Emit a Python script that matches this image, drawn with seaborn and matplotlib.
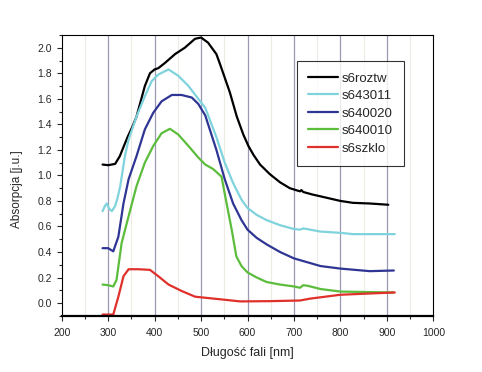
import numpy as np
import pandas as pd
import seaborn as sns
import matplotlib.pyplot as plt
from matplotlib.ticker import MultipleLocator

# dane (dlugosc fali w nm, absorpcja w j.u.)
wl_roztw = [288, 300, 315, 325, 335, 343, 352, 361, 370, 379, 390, 400, 408, 422, 444, 465, 487, 500,
            515, 533, 541, 562, 577, 591, 602, 613, 627, 648, 670, 691, 713, 716, 720, 740, 757, 800, 827, 863, 903]
abs_roztw = [1.085, 1.08, 1.09, 1.15, 1.24, 1.31, 1.38, 1.46, 1.58, 1.70, 1.80, 1.83, 1.84, 1.88, 1.95, 2.00, 2.07, 2.08,
             2.04, 1.95, 1.87, 1.65, 1.46, 1.32, 1.23, 1.16, 1.085, 1.01, 0.946, 0.90, 0.875, 0.885, 0.87, 0.85, 0.836,
             0.80, 0.785, 0.78, 0.77]

wl_643011 = [288, 293, 297, 302, 308, 315, 320, 326, 336, 344, 361, 379, 394, 408, 430, 451, 473, 494, 509,
             533, 551, 569, 587, 600, 620, 641, 670, 700, 713, 720, 757, 800, 827, 917]
abs_643011 = [0.72, 0.76, 0.78, 0.74, 0.72, 0.76, 0.82, 0.915, 1.15, 1.28, 1.46, 1.62, 1.74, 1.79, 1.83, 1.78, 1.70, 1.60, 1.53,
              1.30, 1.10, 0.94, 0.81, 0.745, 0.69, 0.65, 0.61, 0.58, 0.575, 0.585, 0.56, 0.55, 0.54, 0.54]

wl_640020 = [288, 300, 311, 322, 333, 344, 361, 379, 397, 415, 437, 458, 480, 494, 509, 533, 551, 569, 587, 600,
             620, 641, 670, 700, 757, 800, 863, 915]
abs_640020 = [0.43, 0.43, 0.405, 0.52, 0.78, 0.97, 1.15, 1.36, 1.49, 1.58, 1.63, 1.63, 1.61, 1.56, 1.47, 1.20, 0.97, 0.78, 0.65, 0.575,
              0.51, 0.46, 0.40, 0.35, 0.29, 0.27, 0.25, 0.255]

wl_640010 = [288, 300, 311, 318, 329, 344, 361, 379, 397, 415, 433, 451, 473, 494, 509, 526, 544, 555, 566, 576,
             587, 600, 620, 641, 670, 700, 713, 720, 730, 757, 800, 915]
abs_640010 = [0.145, 0.14, 0.13, 0.18, 0.47, 0.68, 0.915, 1.10, 1.23, 1.33, 1.365, 1.32, 1.23, 1.14, 1.085, 1.05, 0.99, 0.78, 0.575, 0.365,
              0.29, 0.24, 0.20, 0.165, 0.145, 0.13, 0.12, 0.14, 0.135, 0.11, 0.09, 0.083]

wl_szklo = [288, 300, 311, 322, 333, 344, 365, 390, 408, 430, 458, 487, 500, 540, 584, 650, 713, 735, 757, 800, 863, 917]
abs_szklo = [-0.09, -0.09, -0.09, 0.05, 0.21, 0.265, 0.265, 0.26, 0.21, 0.145, 0.095, 0.05, 0.045, 0.03, 0.013, 0.015, 0.02, 0.035, 0.045, 0.065, 0.075, 0.083]

nazwy = ["s6roztw", "s643011", "s640020", "s640010", "s6szklo"]
kolory = ["#000000", "#7fd3dc", "#2f3593", "#5cbd3c", "#e0302a"]

serie = [(wl_roztw, abs_roztw), (wl_643011, abs_643011), (wl_640020, abs_640020),
         (wl_640010, abs_640010), (wl_szklo, abs_szklo)]
df = pd.concat([pd.DataFrame({"wl": x, "abs": y, "probka": n}) for n, (x, y) in zip(nazwy, serie)],
               ignore_index=True)

sns.set_style("ticks")
plt.rcParams['font.family'] = ['Liberation Sans', 'DejaVu Sans']

fig = plt.figure(figsize=(4.82, 3.72), dpi=100)
ax = fig.add_axes([0.128, 0.151, 0.771, 0.755])

# siatka pionowa: glowne i pomocnicze linie
for x in range(250, 1000, 100):
    ax.axvline(x, color="#ecebe4", lw=0.8, zorder=0)
for x in range(300, 1000, 100):
    ax.axvline(x, color="#9a9ab4", lw=0.9, zorder=0)

sns.lineplot(data=df, x="wl", y="abs", hue="probka", hue_order=nazwy,
             palette=dict(zip(nazwy, kolory)), estimator=None, sort=False,
             lw=1.6, ax=ax)

ax.set_xlim(200, 1000)
ax.set_ylim(-0.1, 2.1)
ax.xaxis.set_major_locator(MultipleLocator(100))
ax.xaxis.set_minor_locator(MultipleLocator(50))
ax.yaxis.set_major_locator(MultipleLocator(0.2))
ax.yaxis.set_minor_locator(MultipleLocator(0.1))
ax.yaxis.set_major_formatter(plt.FormatStrFormatter("%.1f"))
ax.tick_params(which="major", length=3.5, width=0.8, labelsize=7.5, direction="out")
ax.tick_params(axis="x", which="major", pad=5)
ax.tick_params(which="minor", length=2, width=0.8, direction="out")

for s in ax.spines.values():
    s.set_visible(True)
    s.set_color("black")
    s.set_linewidth(0.8)
ax.spines["bottom"].set_linewidth(1.6)

ax.set_xlabel("Długość fali [nm]", fontsize=9, labelpad=7)
ax.set_ylabel("Absorpcja [j.u.]", fontsize=8.5)
ax.yaxis.set_label_coords(-0.105, 0.45)

leg = ax.legend(loc="upper right", bbox_to_anchor=(0.921, 0.907), borderaxespad=0,
                fontsize=9.5, frameon=True, fancybox=False, handlelength=2.3,
                handletextpad=0.25, labelspacing=0.4, borderpad=0.85)
leg.get_frame().set_edgecolor("black")
leg.get_frame().set_linewidth(0.8)
leg.set_title(None)

fig.savefig("out.png", dpi=100)
